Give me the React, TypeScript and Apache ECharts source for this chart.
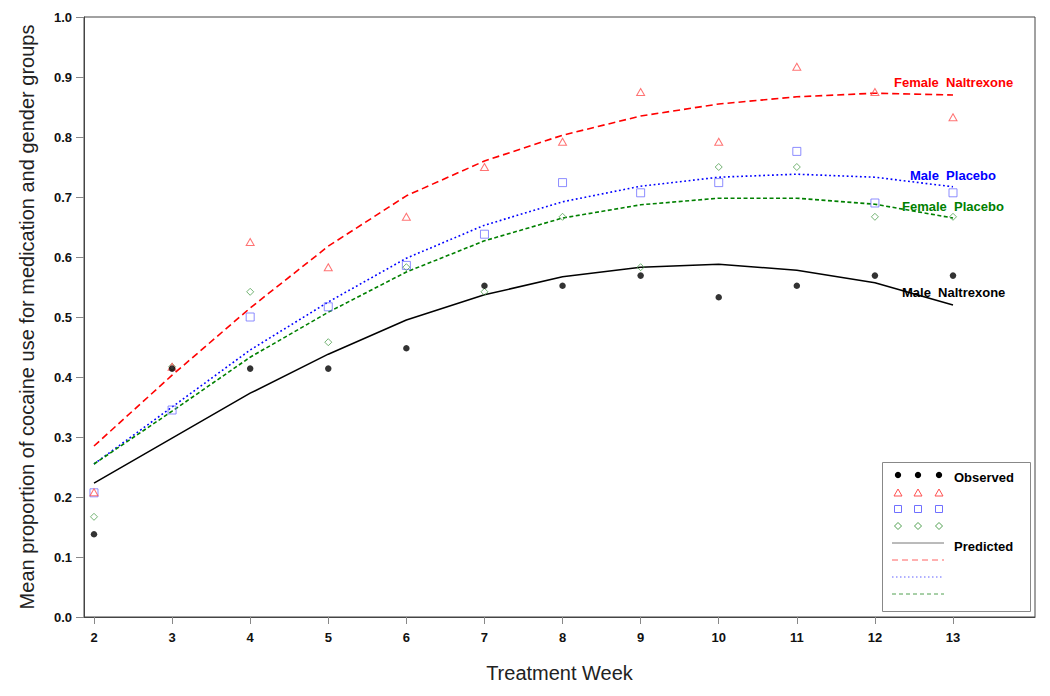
import React, { useEffect, useRef } from 'react';
import * as echarts from 'echarts';

const weeks = [2, 3, 4, 5, 6, 7, 8, 9, 10, 11, 12, 13];
const obsMaleNaltrexone = [0.138, 0.414, 0.414, 0.414, 0.448, 0.552, 0.552, 0.569, 0.533, 0.552, 0.569, 0.569];
const obsFemaleNaltrexone = [0.208, 0.417, 0.625, 0.583, 0.667, 0.75, 0.792, 0.875, 0.792, 0.917, 0.875, 0.833];
const obsMalePlacebo = [0.207, 0.345, 0.5, 0.517, 0.586, 0.638, 0.724, 0.707, 0.724, 0.776, 0.69, 0.707];
const obsFemalePlacebo = [0.167, 0.417, 0.542, 0.458, 0.583, 0.542, 0.667, 0.583, 0.75, 0.75, 0.667, 0.667];
const predMaleNaltrexone = [0.223, 0.298, 0.373, 0.438, 0.495, 0.537, 0.567, 0.583, 0.588, 0.578, 0.557, 0.52];
const predFemaleNaltrexone = [0.285, 0.403, 0.515, 0.618, 0.702, 0.76, 0.803, 0.835, 0.855, 0.867, 0.873, 0.87];
const predMalePlacebo = [0.255, 0.35, 0.445, 0.525, 0.598, 0.653, 0.692, 0.718, 0.733, 0.738, 0.733, 0.717];
const predFemalePlacebo = [0.255, 0.343, 0.433, 0.508, 0.575, 0.627, 0.665, 0.687, 0.698, 0.698, 0.688, 0.665];
const xTickLabels = weeks;

const FONT = '"Liberation Sans", Arial, Helvetica, sans-serif';

const pairs = (ys: number[]) => weeks.map((w, i) => [w, ys[i]]);

export default function App() {
  const ref = useRef<HTMLDivElement>(null);
  useEffect(() => {
    document.body.style.margin = '0';
    const chart = echarts.init(ref.current!, null, { renderer: 'svg' });
    const legendText = (text: string, x: number, y: number) => ({
      type: 'text', x, y,
      style: { text, font: `bold 13px ${FONT}`, fill: '#000', verticalAlign: 'middle', align: 'left' },
    });
    const labelText = (text: string, x: number, y: number, color: string) => ({
      type: 'text', x, y,
      style: { text, font: `bold 13px ${FONT}`, fill: color, verticalAlign: 'middle', align: 'left' },
    });
    const legendXs = [898, 918, 939];
    const graphic: any[] = [
      { type: 'rect', shape: { x: 882.5, y: 462.5, width: 148, height: 149 }, style: { fill: '#fff', stroke: '#888', lineWidth: 1 }, z: 10 },
      ...legendXs.map((x) => ({ type: 'circle', shape: { cx: x, cy: 475, r: 3.2 }, style: { fill: '#000' }, z: 11 })),
      ...legendXs.map((x) => ({ type: 'polygon', shape: { points: [[x, 489], [x - 4, 496], [x + 4, 496]] }, style: { fill: 'none', stroke: '#ff5050', lineWidth: 1 }, z: 11 })),
      ...legendXs.map((x) => ({ type: 'rect', shape: { x: x - 3.5, y: 505.5, width: 7, height: 7 }, style: { fill: 'none', stroke: '#7070ff', lineWidth: 1 }, z: 11 })),
      ...legendXs.map((x) => ({ type: 'polygon', shape: { points: [[x, 522.5], [x + 3.5, 526], [x, 529.5], [x - 3.5, 526]] }, style: { fill: 'none', stroke: '#50a050', lineWidth: 1 }, z: 11 })),
      { type: 'line', shape: { x1: 892, y1: 543, x2: 944, y2: 543 }, style: { stroke: '#777', lineWidth: 1 }, z: 11 },
      { type: 'line', shape: { x1: 892, y1: 560, x2: 944, y2: 560 }, style: { stroke: '#ff6060', lineWidth: 1, lineDash: [6, 4] }, z: 11 },
      { type: 'line', shape: { x1: 892, y1: 577, x2: 944, y2: 577 }, style: { stroke: '#6060ff', lineWidth: 1, lineDash: [1.5, 2.5] }, z: 11 },
      { type: 'line', shape: { x1: 892, y1: 594, x2: 944, y2: 594 }, style: { stroke: '#50a050', lineWidth: 1, lineDash: [4, 3] }, z: 11 },
      { ...legendText('Observed', 954, 477), z: 11 },
      { ...legendText('Predicted', 954, 546), z: 11 },
      labelText('Female  Naltrexone', 894, 82, '#ff0000'),
      labelText('Male  Placebo', 910, 175, '#0000ff'),
      labelText('Female  Placebo', 902, 206, '#008000'),
      labelText('Male  Naltrexone', 902, 292, '#000000'),
    ];
    const lineSeries = (name: string, ys: number[], color: string, dash: any, width: number) => ({
      name, type: 'line', data: pairs(ys), symbol: 'none', smooth: false,
      lineStyle: { color, type: dash, width }, z: 3,
    });
    const scatter = (name: string, ys: number[], symbol: string, size: any, color: string, filled: boolean) => ({
      name, type: 'scatter', data: pairs(ys), symbol, symbolSize: size,
      itemStyle: filled ? { color } : { color: 'rgba(0,0,0,0)', borderColor: color, borderWidth: 1 },
      z: 4,
    });
    chart.setOption({
      animation: false,
      grid: { left: 84, top: 17, right: 15, bottom: 79, show: true, borderColor: '#444', borderWidth: 1 },
      xAxis: {
        type: 'value', min: 1.872, max: 14.05,
        axisLine: { show: true, lineStyle: { color: '#444', width: 1 } },
        axisTick: { show: true, inside: false, length: 7, lineStyle: { color: '#888' }, customValues: xTickLabels },
        axisLabel: { customValues: xTickLabels, margin: 14, fontSize: 13, fontWeight: 'bold', color: '#111', fontFamily: FONT },
        splitLine: { show: false },
        name: 'Treatment Week', nameLocation: 'middle', nameGap: 46,
        nameTextStyle: { fontSize: 20, color: '#222', fontFamily: FONT },
      },
      yAxis: {
        type: 'value', min: 0, max: 1, interval: 0.1,
        axisLine: { show: true, lineStyle: { color: '#444', width: 1 } },
        axisTick: { show: true, inside: false, length: 8, lineStyle: { color: '#888' } },
        axisLabel: { margin: 12, fontSize: 13, fontWeight: 'bold', color: '#111', fontFamily: FONT, formatter: (v: number) => v.toFixed(1) },
        splitLine: { show: false },
        name: 'Mean proportion of cocaine use for medication and gender groups', nameLocation: 'middle', nameGap: 47,
        nameTextStyle: { fontSize: 20, color: '#222', fontFamily: FONT },
      },
      series: [
        lineSeries('Pred Male Naltrexone', predMaleNaltrexone, '#000000', 'solid', 1.5),
        lineSeries('Pred Female Naltrexone', predFemaleNaltrexone, '#ff0000', [7, 4], 1.6),
        lineSeries('Pred Male Placebo', predMalePlacebo, '#0000ff', [1.8, 2.6], 1.6),
        lineSeries('Pred Female Placebo', predFemalePlacebo, '#008000', [4, 2.5], 1.6),
        scatter('Obs Male Placebo', obsMalePlacebo, 'rect', 8, '#7070ff', false),
        scatter('Obs Female Placebo', obsFemalePlacebo, 'diamond', 7, '#50a050', false),
        scatter('Obs Female Naltrexone', obsFemaleNaltrexone, 'triangle', [8, 7], '#ff5050', false),
        scatter('Obs Male Naltrexone', obsMaleNaltrexone, 'circle', 6.5, '#000000', true),
      ],
      graphic,
    });
    return () => chart.dispose();
  }, []);
  return <div ref={ref} style={{ width: 1050, height: 696 }} />;
}
